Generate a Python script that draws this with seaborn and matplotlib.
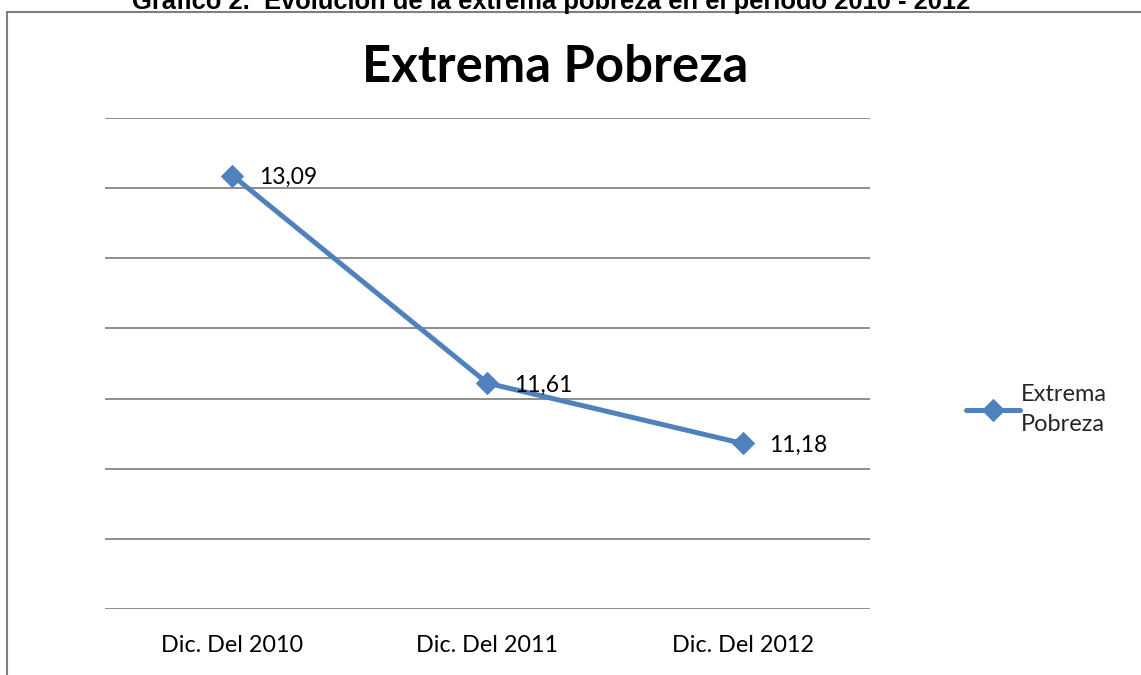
import matplotlib
matplotlib.use("Agg")
from matplotlib import pyplot as plt
from matplotlib.patches import Rectangle
import pandas as pd
import seaborn as sns

periodos = ["Dic. Del 2010", "Dic. Del 2011", "Dic. Del 2012"]
valores = [13.09, 11.61, 11.18]
etiquetas = ["13,09", "11,61", "11,18"]
serie = "Extrema Pobreza"

df = pd.DataFrame({"periodo": periodos, "valor": valores})

sns.set_theme(style="white")
plt.rcParams['font.family'] = ['Lato', 'DejaVu Sans']

AZUL = "#4F81BD"
GRIS = "#868686"

fig = plt.figure(figsize=(11.41, 6.75), dpi=100)
ax = fig.add_axes([0.092, 0.0978, 0.6705, 0.7274])

sns.lineplot(data=df, x="periodo", y="valor", ax=ax, color=AZUL, linewidth=3.6,
             marker="D", markersize=11, markeredgecolor=AZUL, label=serie, sort=False)

ax.set_xlim(-0.5, 2.5)
ax.set_ylim(10, 13.5)
ax.set_yticks([10 + 0.5 * i for i in range(8)])
ax.yaxis.grid(True, color=GRIS, linewidth=1.3)
ax.set_yticklabels([])
ax.tick_params(axis="y", length=0)
ax.tick_params(axis="x", length=0, pad=19, labelsize=16.8, labelcolor="black")
for s in ax.spines.values():
    s.set_visible(False)
ax.set_xlabel("")
ax.set_ylabel("")

for i, (v, t) in enumerate(zip(valores, etiquetas)):
    ax.annotate(t, (i, v), xytext=(19, -1.5), textcoords="offset points",
                ha="left", va="center", fontsize=16.5, color="black")

fig.text(555 / 1141, 1 - 82 / 675, serie, ha="center", va="baseline",
         fontsize=36.5, fontweight="bold", color="black")

leg = ax.legend(["Extrema\nPobreza"], loc="center left", bbox_to_anchor=(0.838, 0.393),
                bbox_transform=fig.transFigure, frameon=False, fontsize=17,
                handlelength=2.3, handletextpad=0.05, borderaxespad=0)
for txt in leg.get_texts():
    txt.set_linespacing(1.55)

fig.text(0.483, 1 - 8.5 / 675, "Gráfico 2.  Evolución de la extrema pobreza en el período 2010 - 2012",
         ha="center", va="baseline", fontsize=18.4, fontweight="bold",
         family=["Liberation Sans", "DejaVu Sans"], color="black")

fig.patches.append(Rectangle((0.0061, -0.1), 1.2, 1.1 - 12 / 675, transform=fig.transFigure,
                             fill=False, edgecolor="#7f7f7f", linewidth=1.5))

fig.savefig("out.png", dpi=100)
